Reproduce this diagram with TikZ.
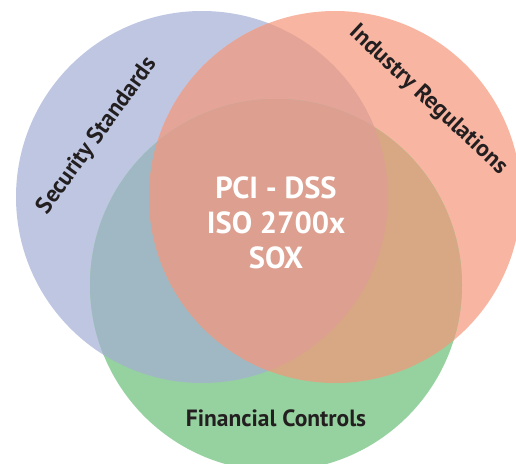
\documentclass[tikz,border=0pt]{standalone}
\usepackage{fontspec}
\setmainfont{PT Sans}

\definecolor{secblue}{HTML}{BEC6E2}
\definecolor{regsalmon}{HTML}{F8B6A2}
\definecolor{fingreen}{HTML}{96D2A0}
\definecolor{bluesalmon}{HTML}{E4A598}
\definecolor{bluegreen}{HTML}{A0B8C4}
\definecolor{salmongreen}{HTML}{D7A883}
\definecolor{allthree}{HTML}{DDA090}
\definecolor{labeltext}{HTML}{231F20}

\newcommand{\blueC}{(202,197) circle (186)}
\newcommand{\salmonC}{(335,197) circle (186)}
\newcommand{\greenC}{(276,285) circle (186)}

\tikzset{
  setlabel/.style={font=\bfseries\fontsize{23.5}{26}\selectfont, text=labeltext},
  corelabel/.style={font=\bfseries\fontsize{30.5}{35}\selectfont, text=white, align=center}
}

\begin{document}
\begin{tikzpicture}[x=1pt,y=-1pt]
\useasboundingbox (0,0) rectangle (516,463);

% the three sets
\fill[secblue] \blueC;
\fill[regsalmon] \salmonC;
\fill[fingreen] \greenC;

% two-way overlaps
\begin{scope}
\clip \blueC;
\fill[bluesalmon] \salmonC;
\fill[bluegreen] \greenC;
\end{scope}
\begin{scope}
\clip \salmonC;
\fill[salmongreen] \greenC;
\end{scope}

% the middle
\begin{scope}
\clip \blueC;
\clip \salmonC;
\fill[allthree] \greenC;
\end{scope}

% labels
\node[setlabel, rotate=54] (security) at (97,136) {Security Standards};
\node[setlabel, rotate=-43] (industry) at (428,100) {Industry Regulations};
\node[setlabel, anchor=base] (financial) at (276,426) {Financial Controls};
\node[corelabel] (core) at (276,223) {PCI - DSS\\ISO 2700x\\SOX};
\end{tikzpicture}
\end{document}
